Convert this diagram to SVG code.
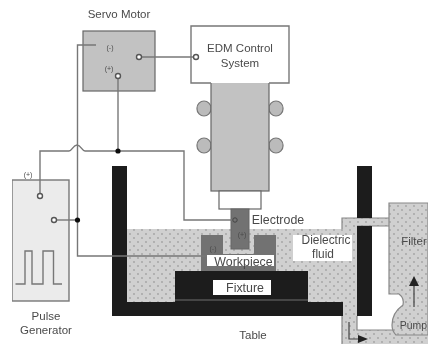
<svg xmlns="http://www.w3.org/2000/svg" width="428" height="344" viewBox="0 0 428 344">
<style>
text{font-family:"Liberation Sans",Arial,sans-serif;font-size:11.5px;fill:#4a4a4a;text-anchor:middle}
.s{font-size:7px}
.l{font-size:12.4px}
.w{fill:none;stroke:#777;stroke-width:1.4}
.t{fill:#c2c2c2;stroke:#666;stroke-width:1.2}
.p{fill:url(#dots)}
.o{fill:#fff;stroke:#555;stroke-width:1.4}
.k{fill:#1a1a1a}
.r{fill:#bbb;stroke:#777;stroke-width:1.2}
</style>
<defs>
<pattern id="dots" width="8" height="8" patternUnits="userSpaceOnUse">
<rect width="8" height="8" fill="#d0d0d0"/>
<circle cx="2" cy="2" r="0.9" fill="#a2a2a2"/>
<circle cx="6" cy="6" r="0.9" fill="#a2a2a2"/>
</pattern>
<marker id="ah" markerWidth="10" markerHeight="8" refX="1" refY="4" orient="auto" markerUnits="userSpaceOnUse">
<path d="M0 0L10 4L0 8Z" fill="#222"/>
</marker>
<filter id="soft" x="0" y="0" width="100%" height="100%"><feGaussianBlur stdDeviation="0.45"/></filter>
</defs>
<rect width="428" height="344" fill="#fff"/>
<g filter="url(#soft)">
<g id="dielectric">
<rect class="p" x="127" y="229" width="230" height="73"/>
<rect class="p" x="342" y="218" width="47" height="8"/>
<rect class="p" x="342" y="226" width="15" height="10"/>
<rect class="p" x="342" y="302" width="15" height="42"/>
<rect class="p" x="342" y="330" width="86" height="14"/>
</g>
<g id="pump-filter">
<path class="p" d="M428 203H389V294H399C403 297 404 300 403 305C396 310 392 317 392 325C392 331 394 333 396 335H428Z" stroke="#888" stroke-width="1.2"/>
<path fill="none" stroke="#888" stroke-width="1.2" d="M389 218H342V229M389 226H357M342 302V344M357 316V330H393"/>
<path d="M414 307V285" fill="none" stroke="#555" stroke-width="1.4"/>
<path d="M414 276L409 286H419Z" fill="#222"/>
<path d="M349 322V339H359" fill="none" stroke="#444" stroke-width="1.2" marker-end="url(#ah)"/>
<text x="414" y="245">Filter</text>
<text x="427" y="329" style="font-size:10.4px;text-anchor:end">Pump</text>
</g>
<g id="table">
<rect class="k" x="112" y="166" width="15" height="150"/>
<rect class="k" x="112" y="302" width="231" height="14"/>
<rect class="k" x="357" y="166" width="15" height="52"/>
<rect class="k" x="357" y="226" width="15" height="90"/>
<text x="253" y="339">Table</text>
</g>
<g id="fixture">
<rect class="k" x="175" y="271" width="133" height="31"/>
<path d="M175 300H308" stroke="#888" stroke-width="0.8"/>
<rect x="213" y="280" width="58" height="15" fill="#fff"/>
<text x="245" y="292" class="l">Fixture</text>
</g>
<g id="workpiece">
<path d="M201 235H223V254H254V235H276V271H201Z" fill="#727272"/>
<rect x="207" y="255" width="67" height="11" fill="#fff"/>
<text x="243.500" y="265.500" class="l">Workpiece</text>
<text class="s" x="213" y="251">(-)</text>
</g>
<g id="head">
<rect class="r" x="197" y="101" width="14" height="15" rx="7"/>
<rect class="r" x="197" y="138" width="14" height="15" rx="7"/>
<rect class="r" x="269" y="101" width="14" height="15" rx="7"/>
<rect class="r" x="269" y="138" width="14" height="15" rx="7"/>
<rect class="t" x="211" y="80" width="58" height="111"/>
<rect x="219" y="191" width="42" height="18" fill="#fff" stroke="#666" stroke-width="1.2"/>
</g>
<g id="edm-control">
<path d="M211 83H191V26H289V83H269" fill="#fff" stroke="#777" stroke-width="1.4"/>
<text x="240" y="52">EDM Control</text>
<text x="240" y="67">System</text>
</g>
<g id="servo-motor">
<rect class="t" x="83" y="31" width="72" height="60"/>
<text x="119" y="18">Servo Motor</text>
<text class="s" x="110" y="50">(-)</text>
<text class="s" x="109" y="71">(+)</text>
</g>
<g id="pulse-generator">
<rect x="12" y="180" width="57" height="121" fill="#ebebeb" stroke="#777" stroke-width="1.4"/>
<path d="M15.500 284H25V251H32V284H43V251H53.500V284H62" class="w"/>
<text class="s" x="28" y="177">(+)</text>
<text x="46" y="320">Pulse</text>
<text x="46" y="334">Generator</text>
</g>
<g id="electrode">
<rect x="231" y="209" width="18" height="40" fill="#727272" stroke="#666"/>
<text class="s" x="242" y="237">(+)</text>
<text x="278" y="224" class="l">Electrode</text>
</g>
<g id="dielectric-label">
<rect x="293" y="235" width="59" height="26" fill="#fff"/>
<text x="326" y="244" class="l" style="font-size:11.900px">Dielectric</text>
<text x="323" y="258" class="l" style="font-size:11.900px">fluid</text>
</g>
<g id="connectors">
<path class="w" d="M96 45H77.500V256H207"/>
<path class="w" d="M40 196V151H69C72 151 73 145 77 145C81 145 82 151 85 151H184V220H235"/>
<path class="w" d="M118 76V151"/>
<path class="w" d="M139 57H196"/>
<path class="w" d="M54 220H77.500"/>
<circle class="o" cx="139" cy="57" r="2.500"/>
<circle class="o" cx="196" cy="57" r="2.500"/>
<circle class="o" cx="118" cy="76" r="2.500"/>
<circle class="o" cx="40" cy="196" r="2.500"/>
<circle class="o" cx="54" cy="220" r="2.500"/>
<circle cx="235" cy="220" r="2.200" fill="none" stroke="#444"/>
<circle cx="118" cy="151" r="2.600" fill="#111"/>
<circle cx="77.500" cy="220" r="2.600" fill="#111"/>
</g>
</g>
</svg>
